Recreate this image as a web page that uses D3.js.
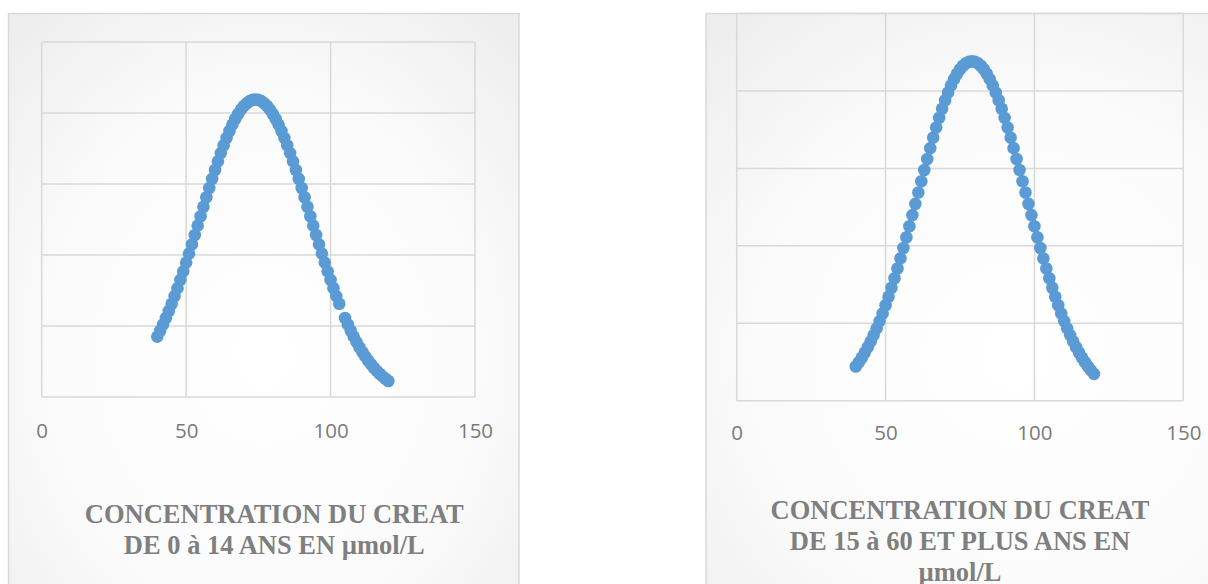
<!DOCTYPE html>
<html>
<head>
<meta charset="utf-8">
<script src="https://cdn.jsdelivr.net/npm/d3@7"></script>
<style>
  html, body { margin: 0; padding: 0; background: #ffffff; }
  svg { display: block; }
</style>
</head>
<body>
<svg id="chart" width="1208" height="584"></svg>
<script>
// ---------- data ----------
const xTickValues = [0, 50, 100, 150];
const yGridValues = [0, 0.005, 0.01, 0.015, 0.02, 0.025];

const titleLeft = ["CONCENTRATION DU CREAT", "DE 0 à 14 ANS EN µmol/L"];
const titleRight = ["CONCENTRATION DU CREAT", "DE 15 à 60 ET PLUS ANS EN", "µmol/L"];

// 0 to 14 years: creatinine (µmol/L) and normal density
const xLeft = [40,41,42,43,44,45,46,47,48,49,50,51,52,53,54,55,56,57,58,59,
  60,61,62,63,64,65,66,67,68,69,70,71,72,73,74,75,76,77,78,79,
  80,81,82,83,84,85,86,87,88,89,90,91,92,93,94,95,96,97,98,99,
  100,101,102,103,105,106,107,108,109,110,111,112,113,114,115,116,117,118,119,120];
const yLeft = [0.004253,0.004665,0.005103,0.005566,0.006054,0.006568,0.007105,0.007665,0.008246,0.008847,
  0.009465,0.010099,0.010746,0.011403,0.012066,0.012733,0.013400,0.014063,0.014718,0.015361,
  0.015987,0.016594,0.017176,0.017730,0.018251,0.018735,0.019180,0.019581,0.019935,0.020240,
  0.020493,0.020691,0.020835,0.020921,0.020950,0.020921,0.020835,0.020691,0.020493,0.020240,
  0.019935,0.019581,0.019180,0.018735,0.018251,0.017730,0.017176,0.016594,0.015987,0.015361,
  0.014718,0.014063,0.013400,0.012733,0.012066,0.011403,0.010746,0.010099,0.009465,0.008847,
  0.008246,0.007665,0.007105,0.006568,0.005566,0.005103,0.004665,0.004253,0.003867,0.003506,
  0.003171,0.002859,0.002571,0.002306,0.002062,0.001839,0.001635,0.001450,0.001283,0.001132];

// 15 to 60+ years
const xRight = [40,41,42,43,44,45,46,47,48,49,50,51,52,53,54,55,56,57,58,59,
  60,61,62,63,64,65,66,67,68,69,70,71,72,73,74,75,76,77,78,79,
  80,81,82,83,84,85,86,87,88,89,90,91,92,93,94,95,96,97,98,99,
  100,101,102,103,104,105,106,107,108,109,110,111,112,113,114,115,116,117,118,119,120];
const yRight = [0.002207,0.002479,0.002776,0.003099,0.003450,0.003829,0.004236,0.004672,0.005139,0.005635,
  0.006160,0.006713,0.007294,0.007901,0.008533,0.009189,0.009864,0.010557,0.011265,0.011984,
  0.012711,0.013441,0.014171,0.014895,0.015608,0.016306,0.016985,0.017638,0.018261,0.018849,
  0.019397,0.019901,0.020357,0.020761,0.021108,0.021397,0.021624,0.021788,0.021887,0.021920,
  0.021887,0.021788,0.021624,0.021397,0.021108,0.020761,0.020357,0.019901,0.019397,0.018849,
  0.018261,0.017638,0.016985,0.016306,0.015608,0.014895,0.014171,0.013441,0.012711,0.011984,
  0.011265,0.010557,0.009864,0.009189,0.008533,0.007901,0.007294,0.006713,0.006160,0.005635,
  0.005139,0.004672,0.004236,0.003829,0.003450,0.003099,0.002776,0.002479,0.002207,0.001959,0.001733];

// ---------- drawing ----------
const svg = d3.select("#chart");
const defs = svg.append("defs");
["gL", "gR"].forEach(id => {
  const g = defs.append("radialGradient").attr("id", id)
    .attr("cx", "50%").attr("cy", "55%").attr("r", "75%");
  g.append("stop").attr("offset", "0%").attr("stop-color", "#ffffff");
  g.append("stop").attr("offset", "55%").attr("stop-color", "#fbfbfb");
  g.append("stop").attr("offset", "100%").attr("stop-color", "#ececec");
});

const GRID = "#d9d9d9";
const TEXT = "#7f7f7f";
const BLUE = "#5b9bd5";

function drawChart(cfg) {
  const g = svg.append("g");
  // outer frame
  g.append("rect")
    .attr("x", cfg.frame.x).attr("y", cfg.frame.y)
    .attr("width", cfg.frame.w).attr("height", cfg.frame.h)
    .attr("fill", `url(#${cfg.grad})`)
    .attr("stroke", GRID).attr("stroke-width", 1.5);

  const x = d3.scaleLinear().domain([0, 150]).range([cfg.plot.x0, cfg.plot.x1]);
  const y = d3.scaleLinear().domain([0, 0.025]).range([cfg.plot.y1, cfg.plot.y0]);

  // horizontal gridlines
  g.append("g").selectAll("line").data(yGridValues).join("line")
    .attr("x1", cfg.plot.x0).attr("x2", cfg.plot.x1)
    .attr("y1", d => y(d)).attr("y2", d => y(d))
    .attr("stroke", GRID).attr("stroke-width", 1.5);
  // vertical gridlines
  g.append("g").selectAll("line").data(xTickValues).join("line")
    .attr("x1", d => x(d)).attr("x2", d => x(d))
    .attr("y1", cfg.plot.y0).attr("y2", cfg.plot.y1)
    .attr("stroke", GRID).attr("stroke-width", 1.5);

  // x axis labels via d3 axis
  const ax = g.append("g")
    .attr("transform", `translate(0,${cfg.labelY})`)
    .call(d3.axisBottom(x).tickValues(xTickValues).tickSize(0).tickPadding(0).tickFormat(d3.format("d")));
  ax.select(".domain").remove();
  ax.selectAll("text")
    .attr("fill", "#7a7a7a")
    .attr("dy", null).attr("y", 0)
    .style("font-family", "'Open Sans', sans-serif")
    .style("font-size", "20.5px")
    .attr("dominant-baseline", "central");

  // points
  const pts = cfg.xs.map((v, i) => [v, cfg.ys[i]]);
  g.append("g").selectAll("circle").data(pts).join("circle")
    .attr("cx", d => x(d[0])).attr("cy", d => y(d[1]))
    .attr("r", 6.3).attr("fill", BLUE);

  // title
  const t = g.append("text")
    .attr("text-anchor", "middle")
    .attr("fill", TEXT)
    .style("font-family", "'Liberation Serif', 'Times New Roman', serif")
    .style("font-weight", "bold")
    .style("font-size", "26.5px");
  cfg.title.forEach((line, i) => {
    t.append("tspan").attr("x", cfg.titleX).attr("y", cfg.titleY + i * 31).text(line);
  });
}

drawChart({
  frame: { x: 8.5, y: 13.5, w: 510.5, h: 620 },
  grad: "gL",
  plot: { x0: 41.7, x1: 475, y0: 42, y1: 397 },
  labelY: 429.7,
  xs: xLeft, ys: yLeft,
  title: titleLeft, titleX: 274.3, titleY: 523
});

drawChart({
  frame: { x: 706, y: 13.5, w: 620, h: 620 },
  grad: "gR",
  plot: { x0: 736.7, x1: 1183.3, y0: 13.5, y1: 400.7 },
  labelY: 431.7,
  xs: xRight, ys: yRight,
  title: titleRight, titleX: 960, titleY: 518.5
});
</script>
</body>
</html>
